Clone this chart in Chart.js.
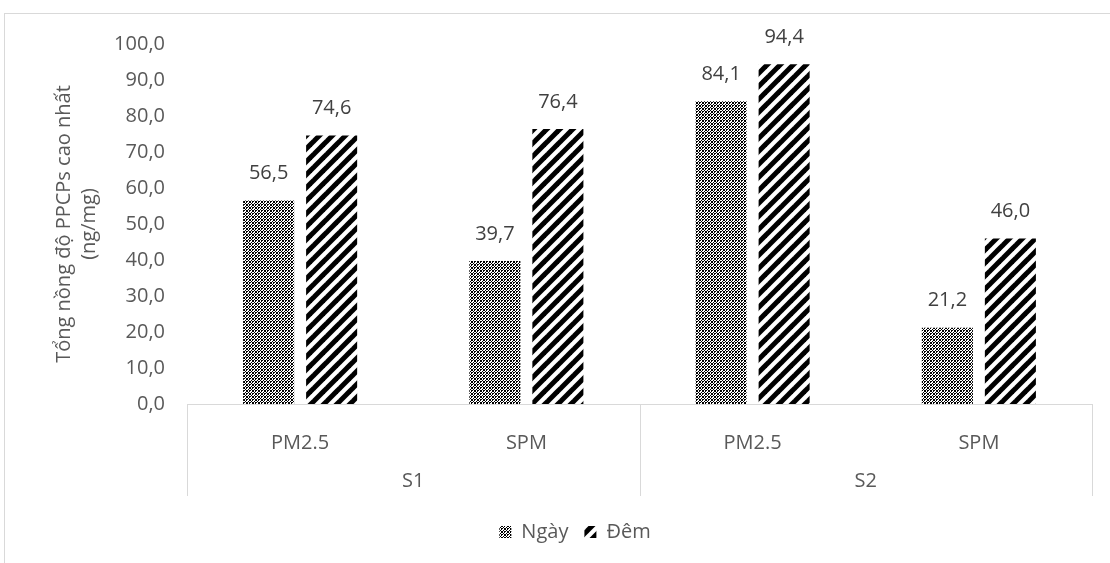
<!DOCTYPE html>
<html>
<head>
<meta charset="utf-8">
<script src="https://cdn.jsdelivr.net/npm/chart.js@4.4.1/dist/chart.umd.min.js"></script>
<style>
  html, body { margin: 0; padding: 0; background: #fff; }
  #wrap { position: relative; width: 1110px; height: 563px; overflow: hidden; background:#fff; }
  #frame { position: absolute; left: 4px; top: 13px; width: 1200px; height: 700px; border: 1px solid #d9d9d9; box-sizing: border-box; }
  canvas { position: absolute; left: 0; top: 0; }
</style>
</head>
<body>
<div id="wrap">
  <div id="frame"></div>
  <canvas id="c" width="1110" height="563"></canvas>
</div>
<script>
// ---- data ----
const categories = ['PM2.5', 'SPM', 'PM2.5', 'SPM'];
const groupLabels = ['S1', 'S2'];
const groupSizes = [2, 2];
const seriesNames = ['Ngày', 'Đêm'];
const ngayValues = [56.5, 39.7, 84.1, 21.2];
const demValues = [74.6, 76.4, 94.4, 46.0];
const yAxisTitle = ['Tổng nồng độ PPCPs cao nhất', '(ng/mg)'];
const yMin = 0, yMax = 100, yStep = 10;

// ---- patterns ----
function dotPattern(ctx) {
  const rows = [
    '110110',
    '110100',
    '001001',
    '110110',
    '100110',
    '001001'
  ];
  const c = document.createElement('canvas');
  c.width = 6; c.height = 6;
  const g = c.getContext('2d');
  g.fillStyle = '#fff'; g.fillRect(0, 0, 6, 6);
  rows.forEach((r, y) => {
    for (let x = 0; x < r.length; x++) {
      if (r[x] === '1') { g.fillStyle = '#000'; g.fillRect(x, y, 1, 1); }
    }
  });
  return ctx.createPattern(c, 'repeat');
}
function stripePattern(ctx) {
  const s = 13;
  const c = document.createElement('canvas');
  c.width = s; c.height = s;
  const g = c.getContext('2d');
  g.fillStyle = '#fff'; g.fillRect(0, 0, s, s);
  g.strokeStyle = '#000'; g.lineWidth = 5; g.lineCap = 'butt';
  const seg = (x1, y1, x2, y2) => { g.beginPath(); g.moveTo(x1, y1); g.lineTo(x2, y2); g.stroke(); };
  seg(-3, s + 3, s + 3, -3);
  seg(-3, 3, 3, -3);
  seg(s - 3, s + 3, s + 3, s - 3);
  return ctx.createPattern(c, 'repeat');
}

const canvas = document.getElementById('c');
const ctx = canvas.getContext('2d');
const FONT = "'Open Sans', sans-serif";
const fmt = v => v.toFixed(1).replace('.', ',');

const valueLabels = {
  id: 'valueLabels',
  afterDatasetsDraw(chart) {
    const c = chart.ctx;
    c.save();
    c.font = '20px ' + FONT;
    c.fillStyle = '#404040';
    c.textAlign = 'center';
    c.textBaseline = 'middle';
    chart.data.datasets.forEach((ds, di) => {
      chart.getDatasetMeta(di).data.forEach((bar, i) => {
        c.fillText(fmt(ds.data[i]), bar.x, bar.y - 27);
      });
    });
    c.restore();
  }
};

const groupAxis = {
  id: 'groupAxis',
  afterDraw(chart) {
    const x = chart.scales.x;
    const c = chart.ctx;
    const top = x.top;
    const bottom = top + 92;
    const half = (x.getPixelForValue(1) - x.getPixelForValue(0)) / 2;
    c.save();
    c.strokeStyle = '#d9d9d9';
    c.lineWidth = 1;
    c.font = '20px ' + FONT;
    c.fillStyle = '#595959';
    c.textAlign = 'center';
    c.textBaseline = 'middle';
    let start = 0;
    const edges = [x.getPixelForValue(0) - half];
    groupLabels.forEach((g, gi) => {
      const end = start + groupSizes[gi] - 1;
      const cx = (x.getPixelForValue(start) + x.getPixelForValue(end)) / 2;
      c.fillText(g, cx, top + 77);
      edges.push(x.getPixelForValue(end) + half);
      start = end + 1;
    });
    edges.forEach(e => {
      const px = Math.round(e) + 0.5;
      c.beginPath(); c.moveTo(px, top); c.lineTo(px, bottom); c.stroke();
    });
    c.restore();
  }
};

const legendShift = {
  id: 'legendShift',
  afterLayout(chart) {
    if (chart.legend) { chart.legend.left += 29; chart.legend.right += 29; }
  }
};

new Chart(ctx, {
  type: 'bar',
  data: {
    labels: categories,
    datasets: [
      { label: seriesNames[0], data: ngayValues, backgroundColor: dotPattern(ctx), borderWidth: 0 },
      { label: seriesNames[1], data: demValues, backgroundColor: stripePattern(ctx), borderWidth: 0 }
    ]
  },
  options: {
    responsive: false,
    animation: false,
    devicePixelRatio: 1,
    layout: { padding: { left: 0, right: 18, top: 44, bottom: 11 } },
    datasets: { bar: { categoryPercentage: 0.557, barPercentage: 0.81 } },
    plugins: {
      legend: {
        position: 'bottom',
        labels: {
          boxWidth: 12, boxHeight: 12, padding: 16,
          color: '#595959',
          font: { family: FONT, size: 20 }
        }
      },
      tooltip: { enabled: false }
    },
    scales: {
      x: {
        grid: { display: false },
        border: { display: true, color: '#d9d9d9' },
        ticks: { color: '#595959', font: { family: FONT, size: 20 }, padding: 19, maxRotation: 0 },
        afterFit(scale) { scale.height = 102; }
      },
      y: {
        min: yMin, max: yMax,
        grid: { display: false, drawTicks: false },
        border: { display: false },
        ticks: { stepSize: yStep, color: '#595959', font: { family: FONT, size: 20 }, padding: 22, callback: v => fmt(v) },
        title: {
          display: true, text: yAxisTitle, color: '#595959',
          font: { family: FONT, size: 20, lineHeight: 1.25 },
          padding: { top: 52, bottom: 0 }
        },
        afterFit(scale) { scale.width = 187; }
      }
    }
  },
  plugins: [valueLabels, groupAxis, legendShift]
});
</script>
</body>
</html>
